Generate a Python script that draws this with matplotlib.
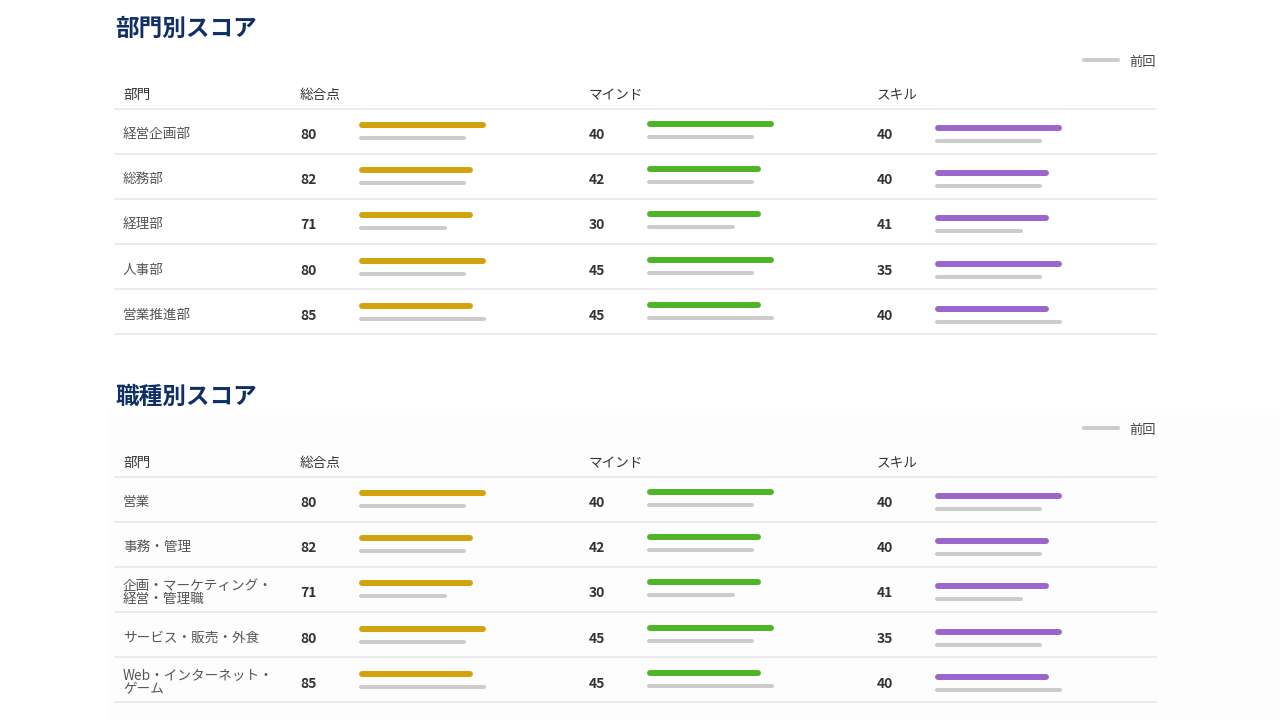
import matplotlib
matplotlib.use("Agg")
import matplotlib.pyplot as plt

plt.rcParams['font.family'] = ['Noto Sans CJK JP', 'DejaVu Sans']

# data
titles = ["部門別スコア", "職種別スコア"]
headers = ["部門", "総合点", "マインド", "スキル"]
dept_labels = ["経営企画部", "総務部", "経理部", "人事部", "営業推進部"]
job_labels = ["営業", "事務・管理", "企画・マーケティング・\n経営・管理職",
              "サービス・販売・外食", "Web・インターネット・\nゲーム"]
total_scores = [80, 82, 71, 80, 85]
mind_scores = [40, 42, 30, 45, 45]
skill_scores = [40, 40, 41, 35, 40]
# bar lengths (percent of the full bar)
bar_now = [100, 90, 90, 100, 90]
bar_prev = [84, 84, 69, 84, 100]
legend_label = "前回"

# style
NAVY = "#0f2f66"
COLORS = ["#d3a20c", "#4fb526", "#9b66cb"]
GRAY = "#cccccc"
LINE = "#e8e8e8"
BAR_W = 127

fig = plt.figure(figsize=(12.8, 7.2), dpi=100)
ax = fig.add_axes([0, 0, 1, 1])
ax.set_xlim(0, 1280)
ax.set_ylim(720, 0)
ax.axis("off")

# very faint panel behind the second table
ax.add_patch(plt.Rectangle((110, 410), 1170, 310, color="#fdfdfd", zorder=0))

col_text_x = [300, 589, 877]
col_bar_x = [359, 647, 935]
bar_dy = [(-7, 6), (-8, 5), (-4, 9)]
tables = [dept_labels, job_labels]
scores = [total_scores, mind_scores, skill_scores]

for t, labels in enumerate(tables):
    y0 = t * 368
    ax.text(115, y0 + 29, titles[t], fontsize=17, fontweight="bold",
            color=NAVY, va="center", ha="left")
    # legend
    ax.plot([1084, 1118], [y0 + 60, y0 + 60], color=GRAY, lw=2.9,
            solid_capstyle="round")
    ax.text(1129, y0 + 62, legend_label, fontsize=9.5, color="#444444",
            va="center", ha="left")
    # header
    for hx, h in zip([123] + col_text_x, headers):
        ax.text(hx, y0 + 95, h, fontsize=9.8, color="#333333",
                va="center", ha="left")
    ax.plot([115, 1156], [y0 + 109, y0 + 109], color=LINE, lw=1.2)
    for i, lab in enumerate(labels):
        yc = y0 + 132 + i * 45.2
        ax.text(123, yc + 2, lab, fontsize=9.8, color="#555555", va="center",
                ha="left", linespacing=0.95)
        for c in range(3):
            ax.text(col_text_x[c], yc + 3, str(scores[c][i]), fontsize=10,
                    fontweight="bold", color="#333333", va="center", ha="left")
            x0 = col_bar_x[c]
            dn, dp = bar_dy[c]
            ax.plot([x0 + 3, x0 + BAR_W * bar_now[i] / 100 - 3],
                    [yc + dn, yc + dn], color=COLORS[c], lw=4.3,
                    solid_capstyle="round")
            ax.plot([x0 + 2, x0 + BAR_W * bar_prev[i] / 100 - 2],
                    [yc + dp, yc + dp], color=GRAY, lw=2.9,
                    solid_capstyle="round")
        ax.plot([115, 1156], [y0 + 154 + i * 45, y0 + 154 + i * 45],
                color=LINE, lw=1.2)

fig.savefig("out.png", dpi=100, facecolor="white")
